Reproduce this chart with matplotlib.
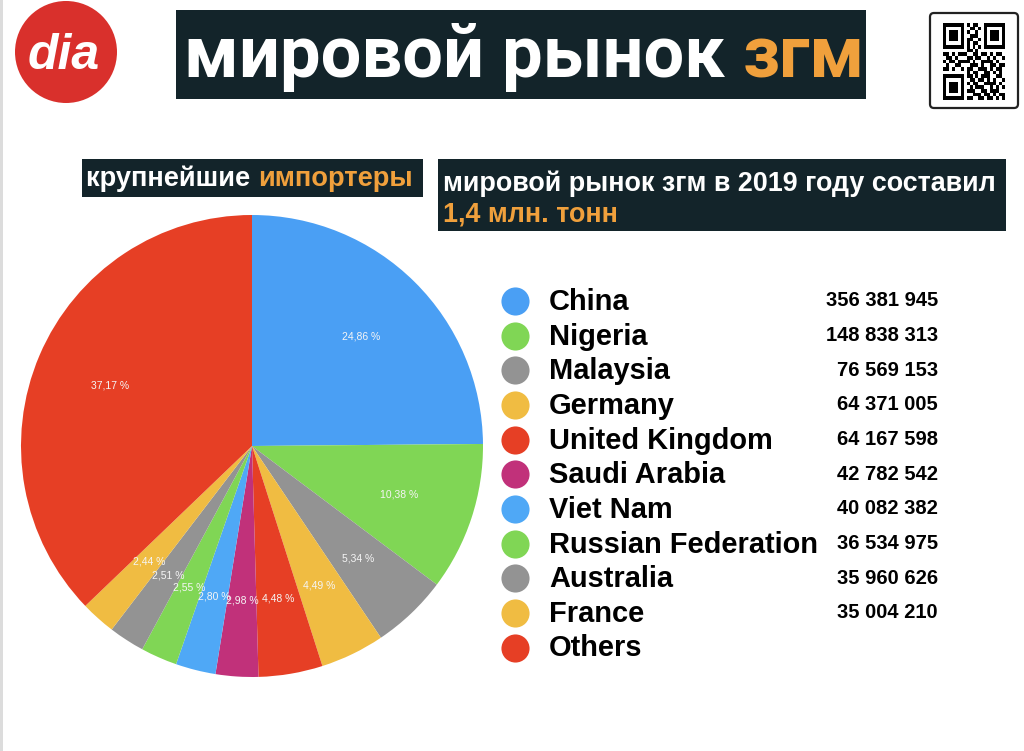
import matplotlib
matplotlib.use("Agg")
import matplotlib.pyplot as plt
import numpy as np
from matplotlib.patches import Rectangle, Circle, FancyBboxPatch

# Data
countries = ["China", "Nigeria", "Malaysia", "Germany", "United Kingdom",
             "Saudi Arabia", "Viet Nam", "Russian Federation", "Australia",
             "France", "Others"]
shares = [24.86, 10.38, 5.34, 4.49, 4.48, 2.98, 2.80, 2.55, 2.51, 2.44, 37.17]
imports = ["356 381 945", "148 838 313", "76 569 153", "64 371 005", "64 167 598",
           "42 782 542", "40 082 382", "36 534 975", "35 960 626", "35 004 210", ""]
colors = ["#4a9ff4", "#80d655", "#939393", "#f0bc42", "#e63f25",
          "#c1317a", "#4fa8f6", "#80d655", "#939393", "#f0bc42", "#e63f25"]

title_white = "мировой рынок "
title_orange = "згм"
sub1_white = "крупнейшие "
sub1_orange = "импортеры"
sub2_line1 = "мировой рынок згм в 2019 году составил"
sub2_line2 = "1,4 млн. тонн"

DARK = "#13242a"
ORANGE = "#f0a03c"
FONT = ["Liberation Sans", "DejaVu Sans"]
TITLE_FONT = ["Roboto", "Liberation Sans", "DejaVu Sans"]

W, H = 1024, 751
fig = plt.figure(figsize=(W / 100, H / 100), dpi=100)
fig.patch.set_facecolor("white")

# background axes in pixel coordinates
bg = fig.add_axes([0, 0, 1, 1])
bg.axis("off")

bg.add_patch(Rectangle((0, 0), 3, H, color="#dcdcdc", lw=0))

# logo
bg.add_patch(Circle((66, 52), 51, color="#d9302c", lw=0))
bg.text(64, 56, "dia", color="white", fontsize=36, fontweight="bold",
        style="italic", ha="center", va="center", family=FONT)

# title banner
bg.add_patch(Rectangle((176, 10), 690, 89, color=DARK, lw=0))
t1 = bg.text(184, 58, title_white, color="white", fontsize=52, fontweight="bold",
             ha="left", va="center", family=TITLE_FONT)
bg.annotate(title_orange, xycoords=t1, xy=(1, 0), va="bottom", ha="left",
            color=ORANGE, fontsize=52, fontweight="bold", family=TITLE_FONT)

# QR code box
qr_rows = [
    "111111101011001111111",
    "100000100110101000001",
    "101110101001001011101",
    "101110100111001011101",
    "101110101100101011101",
    "100000101011001000001",
    "111111101010101111111",
    "000000001101000000000",
    "110101110011011010110",
    "011010001101100101001",
    "101101111010011110100",
    "010011000111010011011",
    "110100101100111010110",
    "000000001011001101010",
    "111111101101011100110",
    "100000100110110101001",
    "101110101011001111010",
    "101110100101110010101",
    "101110101110011011100",
    "100000100011101101011",
    "111111101100110110101",
]
qr = np.array([[int(c) for c in r] for r in qr_rows])
bg.add_patch(FancyBboxPatch((930, 13), 88, 95, boxstyle="round,pad=0,rounding_size=4",
                            fc="white", ec="#222222", lw=1.6))
bg.imshow(1 - qr, cmap="gray", extent=(943, 1005, 100, 23), aspect="auto",
          interpolation="nearest", zorder=3)
bg.set_xlim(0, W)
bg.set_ylim(H, 0)

# subtitle boxes
bg.add_patch(Rectangle((82, 159), 341, 38, color=DARK, lw=0))
s1 = bg.text(86, 179, sub1_white, color="white", fontsize=19.6, fontweight="bold",
             ha="left", va="center", family=FONT)
bg.annotate(sub1_orange, xycoords=s1, xy=(1, 0), va="bottom", ha="left",
            color=ORANGE, fontsize=19.6, fontweight="bold", family=FONT)

bg.add_patch(Rectangle((438, 159), 568, 72, color=DARK, lw=0))
bg.text(443, 184, sub2_line1, color="white", fontsize=19.4, fontweight="bold",
        ha="left", va="center", family=FONT)
bg.text(443, 214, sub2_line2, color=ORANGE, fontsize=19.4, fontweight="bold",
        ha="left", va="center", family=FONT)

# legend
y0, dy = 301, 34.65
for i, (name, val, col) in enumerate(zip(countries, imports, colors)):
    y = y0 + i * dy
    bg.scatter([515], [y], s=410, color=col, lw=0)
    bg.text(549, y + 1, name, fontsize=20.9, fontweight="bold", ha="left",
            va="center", family=FONT, color="black")
    if val:
        bg.text(938, y, val, fontsize=14.5, ha="right", va="center",
                family=FONT, color="black", fontweight="bold")

# pie chart
cx, cy, r = 252, 446, 231
pie_ax = fig.add_axes([(cx - r) / W, (H - cy - r) / H, 2 * r / W, 2 * r / H])
wedges, texts, autotexts = pie_ax.pie(
    shares, colors=colors, startangle=90, counterclock=False,
    autopct=lambda p: f"{p:.2f} %".replace(".", ","), pctdistance=0.67,
    wedgeprops=dict(linewidth=0), textprops=dict(color="#f5f5f5", fontsize=7.5,
                                                 family=FONT))
pie_ax.set_xlim(-1, 1)
pie_ax.set_ylim(-1, 1)
pie_ax.axis("off")

fig.savefig("out.png", dpi=100, facecolor="white")
